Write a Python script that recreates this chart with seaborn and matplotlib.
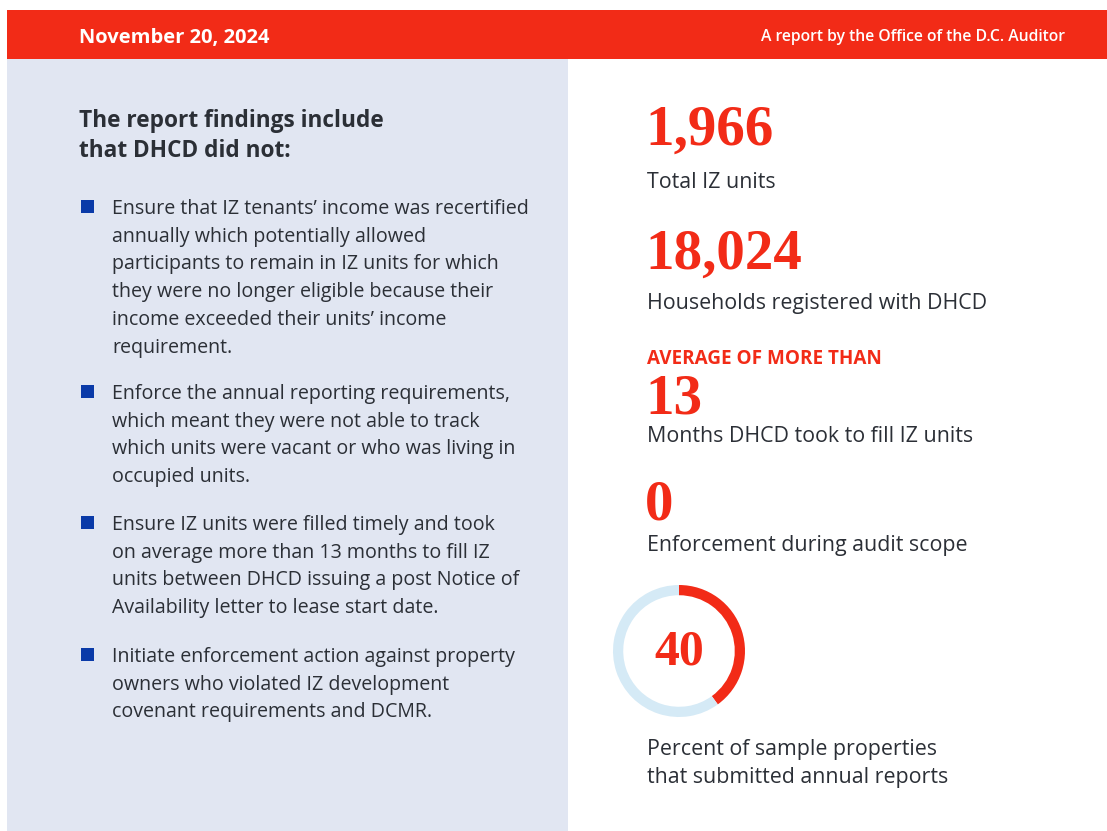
import matplotlib
matplotlib.use("Agg")
import matplotlib.pyplot as plt
import seaborn as sns
from matplotlib.patches import Rectangle

sns.set_theme(style="white")
plt.rcParams['font.family'] = ['Open Sans', 'DejaVu Sans']

RED = "#f22b17"
PANEL = "#e1e6f2"
INK = "#2b2f36"
BLUE = "#0a3aa8"
LIGHT = "#d5eaf6"

# data
report_date = "November 20, 2024"
byline = "A report by the Office of the D.C. Auditor"
heading = ["The report findings include", "that DHCD did not:"]
findings = [
    ["Ensure that IZ tenants\u2019 income was recertified",
     "annually which potentially allowed",
     "participants to remain in IZ units for which",
     "they were no longer eligible because their",
     "income exceeded their units\u2019 income",
     "requirement."],
    ["Enforce the annual reporting requirements,",
     "which meant they were not able to track",
     "which units were vacant or who was living in",
     "occupied units."],
    ["Ensure IZ units were filled timely and took",
     "on average more than 13 months to fill IZ",
     "units between DHCD issuing a post Notice of",
     "Availability letter to lease start date."],
    ["Initiate enforcement action against property",
     "owners who violated IZ development",
     "covenant requirements and DCMR."],
]
stat_values = ["1,966", "18,024", "13", "0"]
stat_labels = ["Total IZ units", "Households registered with DHCD",
               "Months DHCD took to fill IZ units", "Enforcement during audit scope"]
stat_kicker = "AVERAGE OF MORE THAN"
pct_submitted = 40
donut_parts = [pct_submitted, 100 - pct_submitted]
donut_label = ["Percent of sample properties", "that submitted annual reports"]

W, H = 1107, 831
fig = plt.figure(figsize=(W / 100, H / 100), dpi=100)
ax = fig.add_axes([0, 0, 1, 1])
ax.set_xlim(0, W)
ax.set_ylim(H, 0)
ax.axis("off")

# header bar and left panel
ax.add_patch(Rectangle((7, 10), W - 7, 49, color=RED, lw=0))
ax.add_patch(Rectangle((7, 59), 561, H - 59, color=PANEL, lw=0))
ax.text(79, 38, report_date, color="white", fontsize=14.5, fontweight="bold",
        va="center", ha="left")
ax.text(1065, 37, byline, color="white", fontsize=11.3, fontweight="semibold",
        va="center", ha="right")

# left column
for i, line in enumerate(heading):
    ax.text(79, 121 + i * 30, line, color=INK, fontsize=16.3, fontweight="bold",
            va="center", ha="left")

starts = [209, 394, 525, 657]
lh = 27.7
for y0, lines in zip(starts, findings):
    ax.add_patch(Rectangle((81, y0 - 9), 13, 13, color=BLUE, lw=0))
    for j, line in enumerate(lines):
        ax.text(112, y0 + j * lh, line, color=INK, fontsize=14.1,
                va="center", ha="left")

# right column stats
serif = ['Liberation Serif', 'DejaVu Serif']
num_y = [131, 255, 399, 506]
lab_y = [182, 303, 437, 545]
for v, l, ny, ly in zip(stat_values, stat_labels, num_y, lab_y):
    ax.text(645, ny, v, color=RED, fontsize=41, fontweight="bold",
            family=serif, va="center", ha="left")
    ax.text(647, ly, l, color=INK, fontsize=15.4, va="center", ha="left")
ax.text(647, 359, stat_kicker, color=RED, fontsize=13.6, fontweight="bold",
        va="center", ha="left")

# donut
cx, cy, r = 679, 651, 66
dax = fig.add_axes([(cx - r) / W, (H - cy - r) / H, 2 * r / W, 2 * r / H])
dax.pie(donut_parts, colors=[RED, LIGHT], startangle=90, counterclock=False,
        radius=1, wedgeprops=dict(width=0.155, linewidth=0))
dax.set_xlim(-1, 1)
dax.set_ylim(-1, 1)
dax.text(0, -0.02, str(pct_submitted), color=RED, fontsize=36, fontweight="bold",
         family=serif, va="center", ha="center")

for j, line in enumerate(donut_label):
    ax.text(647, 750 + j * 28, line, color=INK, fontsize=15.4, va="center", ha="left")

fig.savefig("out.png", dpi=100)
